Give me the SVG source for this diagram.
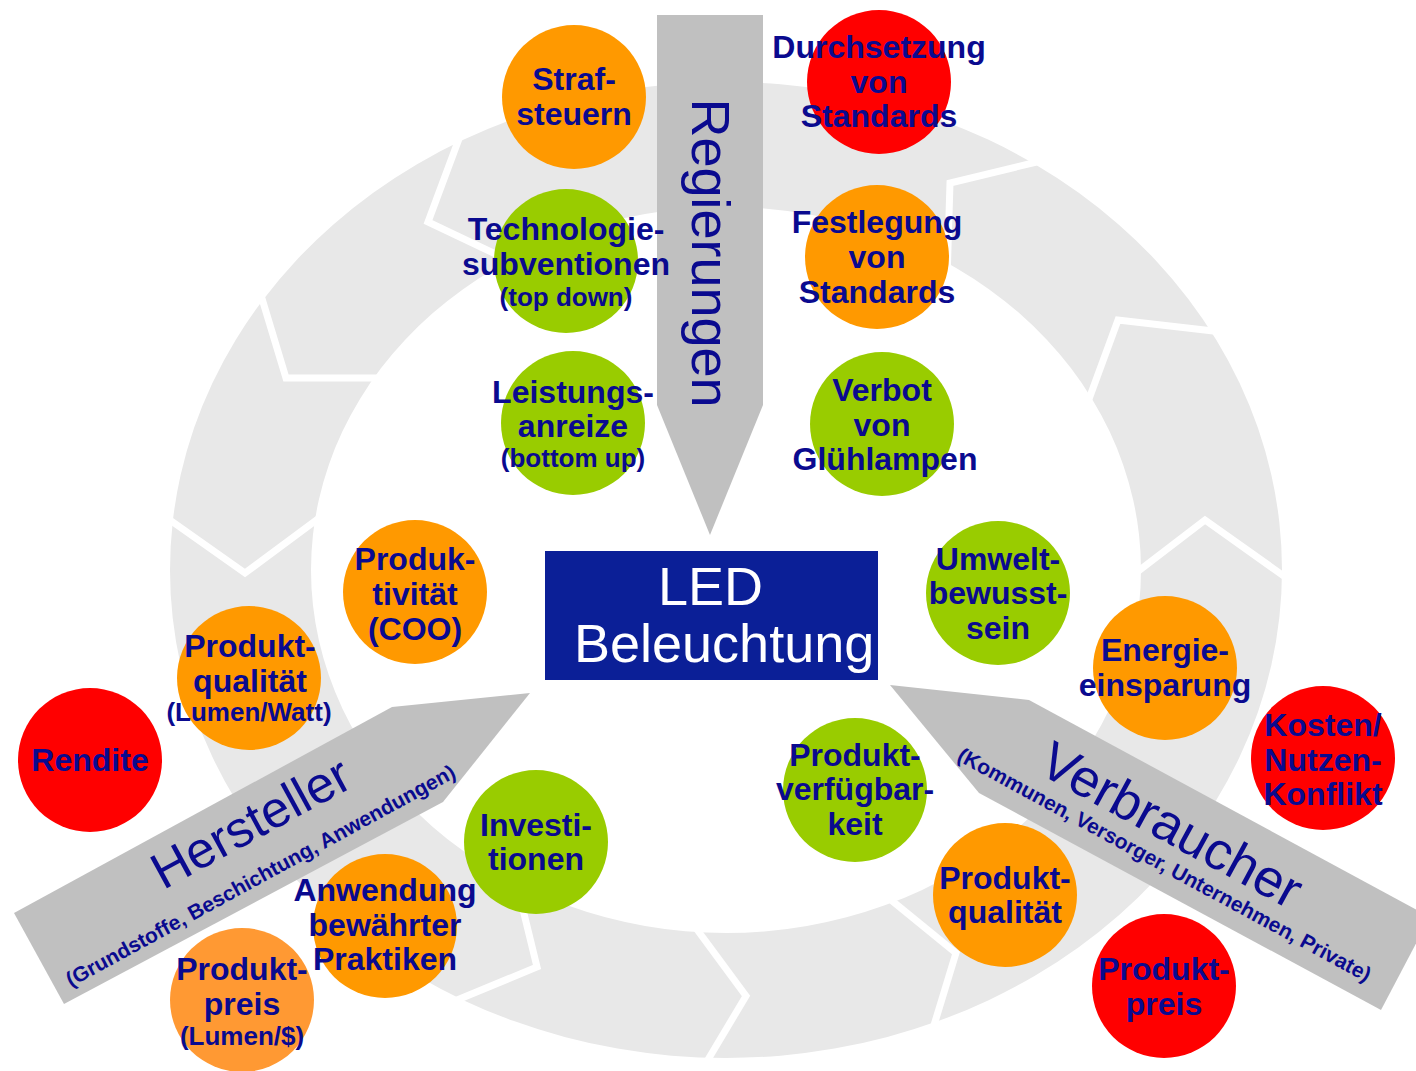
<svg xmlns="http://www.w3.org/2000/svg" width="1416" height="1071" viewBox="0 0 1416 1071">
<style>
.lbl { font-family: "Liberation Sans", Arial, sans-serif; font-weight: bold; font-size: 32px; fill: #0a0a8f; text-anchor: middle; }
.sm { font-size: 26px; }
.big { font-family: "Liberation Sans", Arial, sans-serif; font-weight: normal; fill: #0a0a8f; text-anchor: middle; }
.sub { font-family: "Liberation Sans", Arial, sans-serif; font-weight: bold; font-size: 21px; fill: #0a0a8f; text-anchor: middle; }
.sep { fill: none; stroke: #ffffff; stroke-width: 7; stroke-linejoin: miter; }
.arrow { fill: #c0c0c0; }
.or { fill: #ff9900; }
.gr { fill: #99cc00; }
.rd { fill: #ff0000; }
.lo { fill: #ff9933; }
.ledt { font-family: "Liberation Sans", Arial, sans-serif; font-size: 54px; fill: #ffffff; }
</style>
<rect x="0" y="0" width="1416" height="1071" fill="#ffffff"/>
<g id="ring">
<path fill="#e8e8e8" fill-rule="evenodd" d="M170,570 a556,488 0 1,0 1112,0 a556,488 0 1,0 -1112,0 Z M311,570 a415,363 0 1,0 830,0 a415,363 0 1,0 -830,0 Z"/>
<polyline class="sep" points="463,128 428,222 525,268"/>
<polyline class="sep" points="257,282 286,378 392,378"/>
<polyline class="sep" points="160,513 245,573 330,510"/>
<polyline class="sep" points="517,885 537,967 445,1005"/>
<polyline class="sep" points="690,920 746,996 703,1068"/>
<polyline class="sep" points="880,891 956,953 931,1035"/>
<polyline class="sep" points="1128,579 1205,520 1295,584"/>
<polyline class="sep" points="1222,332 1118,320 1082,418"/>
<polyline class="sep" points="1045,160 950,183 947,280"/>
</g>
<g id="connectors">
<g id="regierungen">
<polygon class="arrow" points="657,15 763,15 763,405 710,535 657,405"/>
<text class="big" font-size="54" transform="translate(692,253) rotate(90)">Regierungen</text>
</g>
<g id="hersteller">
<polygon class="arrow" points="14,913 392,707 530,693 443,802 64,1004"/>
<text class="big" font-size="51" transform="translate(259,838) rotate(-28.6)">Hersteller</text>
<text class="sub" transform="translate(264,882) rotate(-28.6)">(Grundstoffe, Beschichtung, Anwendungen)</text>
</g>
<g id="verbraucher">
<polygon class="arrow" points="890,685 1029,700 1430,917 1381,1010 979,793"/>
<text class="big" font-size="53" transform="translate(1163,841) rotate(28.5)">Verbraucher</text>
<text class="sub" transform="translate(1161,871) rotate(28.5)">(Kommunen, Versorger, Unternehmen, Private)</text>
</g>
</g>
<g id="led">
<rect x="545" y="551" width="333" height="129" fill="#0b1f97"/>
<text class="ledt" x="658" y="605">LED</text>
<text class="ledt" x="574" y="662">Beleuchtung</text>
</g>
<g id="strafsteuern">
<circle class="or" cx="574" cy="97" r="72"/>
<text class="lbl" x="574" y="90">Straf-</text>
<text class="lbl" x="574" y="125">steuern</text>
</g>
<g id="durchsetzung">
<circle class="rd" cx="879" cy="82" r="72"/>
<text class="lbl" x="879" y="58">Durchsetzung</text>
<text class="lbl" x="879" y="93">von</text>
<text class="lbl" x="879" y="127">Standards</text>
</g>
<g id="technologie">
<circle class="gr" cx="566" cy="261" r="72"/>
<text class="lbl" x="566" y="240">Technologie-</text>
<text class="lbl" x="566" y="275">subventionen</text>
<text class="lbl sm" x="566" y="306">(top down)</text>
</g>
<g id="festlegung">
<circle class="or" cx="877" cy="257" r="72"/>
<text class="lbl" x="877" y="233">Festlegung</text>
<text class="lbl" x="877" y="268">von</text>
<text class="lbl" x="877" y="303">Standards</text>
</g>
<g id="leistungsanreize">
<circle class="gr" cx="573" cy="423" r="72"/>
<text class="lbl" x="573" y="403">Leistungs-</text>
<text class="lbl" x="573" y="437">anreize</text>
<text class="lbl sm" x="573" y="467">(bottom up)</text>
</g>
<g id="verbot">
<circle class="gr" cx="882" cy="424" r="72"/>
<text class="lbl" x="882" y="401">Verbot</text>
<text class="lbl" x="882" y="436">von</text>
<text class="lbl" x="885" y="470">Glühlampen</text>
</g>
<g id="produktivitaet">
<circle class="or" cx="415" cy="592" r="72"/>
<text class="lbl" x="415" y="570">Produk-</text>
<text class="lbl" x="415" y="605">tivität</text>
<text class="lbl" x="415" y="640">(COO)</text>
</g>
<g id="produktqualitaet-h">
<circle class="or" cx="249" cy="678" r="72"/>
<text class="lbl" x="250" y="657">Produkt-</text>
<text class="lbl" x="250" y="692">qualität</text>
<text class="lbl sm" x="249" y="721">(Lumen/Watt)</text>
</g>
<g id="rendite">
<circle class="rd" cx="90" cy="760" r="72"/>
<text class="lbl" x="90" y="771">Rendite</text>
</g>
<g id="investitionen">
<circle class="gr" cx="536" cy="842" r="72"/>
<text class="lbl" x="536" y="836">Investi-</text>
<text class="lbl" x="536" y="870">tionen</text>
</g>
<g id="anwendung">
<circle class="or" cx="385" cy="926" r="72"/>
<text class="lbl" x="385" y="901">Anwendung</text>
<text class="lbl" x="385" y="936">bewährter</text>
<text class="lbl" x="385" y="970">Praktiken</text>
</g>
<g id="produktpreis-h">
<circle class="lo" cx="242" cy="1000" r="72"/>
<text class="lbl" x="242" y="980">Produkt-</text>
<text class="lbl" x="242" y="1015">preis</text>
<text class="lbl sm" x="242" y="1045">(Lumen/$)</text>
</g>
<g id="umweltbewusstsein">
<circle class="gr" cx="998" cy="593" r="72"/>
<text class="lbl" x="998" y="570">Umwelt-</text>
<text class="lbl" x="998" y="604">bewusst-</text>
<text class="lbl" x="998" y="639">sein</text>
</g>
<g id="energieeinsparung">
<circle class="or" cx="1165" cy="668" r="72"/>
<text class="lbl" x="1165" y="661">Energie-</text>
<text class="lbl" x="1165" y="696">einsparung</text>
</g>
<g id="kosten-nutzen">
<circle class="rd" cx="1323" cy="758" r="72"/>
<text class="lbl" x="1323" y="736">Kosten/</text>
<text class="lbl" x="1323" y="771">Nutzen-</text>
<text class="lbl" x="1323" y="805">Konflikt</text>
</g>
<g id="produktverfuegbarkeit">
<circle class="gr" cx="855" cy="790" r="72"/>
<text class="lbl" x="855" y="766">Produkt-</text>
<text class="lbl" x="855" y="800">verfügbar-</text>
<text class="lbl" x="855" y="835">keit</text>
</g>
<g id="produktqualitaet-v">
<circle class="or" cx="1005" cy="895" r="72"/>
<text class="lbl" x="1005" y="889">Produkt-</text>
<text class="lbl" x="1005" y="923">qualität</text>
</g>
<g id="produktpreis-v">
<circle class="rd" cx="1164" cy="986" r="72"/>
<text class="lbl" x="1164" y="980">Produkt-</text>
<text class="lbl" x="1164" y="1015">preis</text>
</g>
</svg>
